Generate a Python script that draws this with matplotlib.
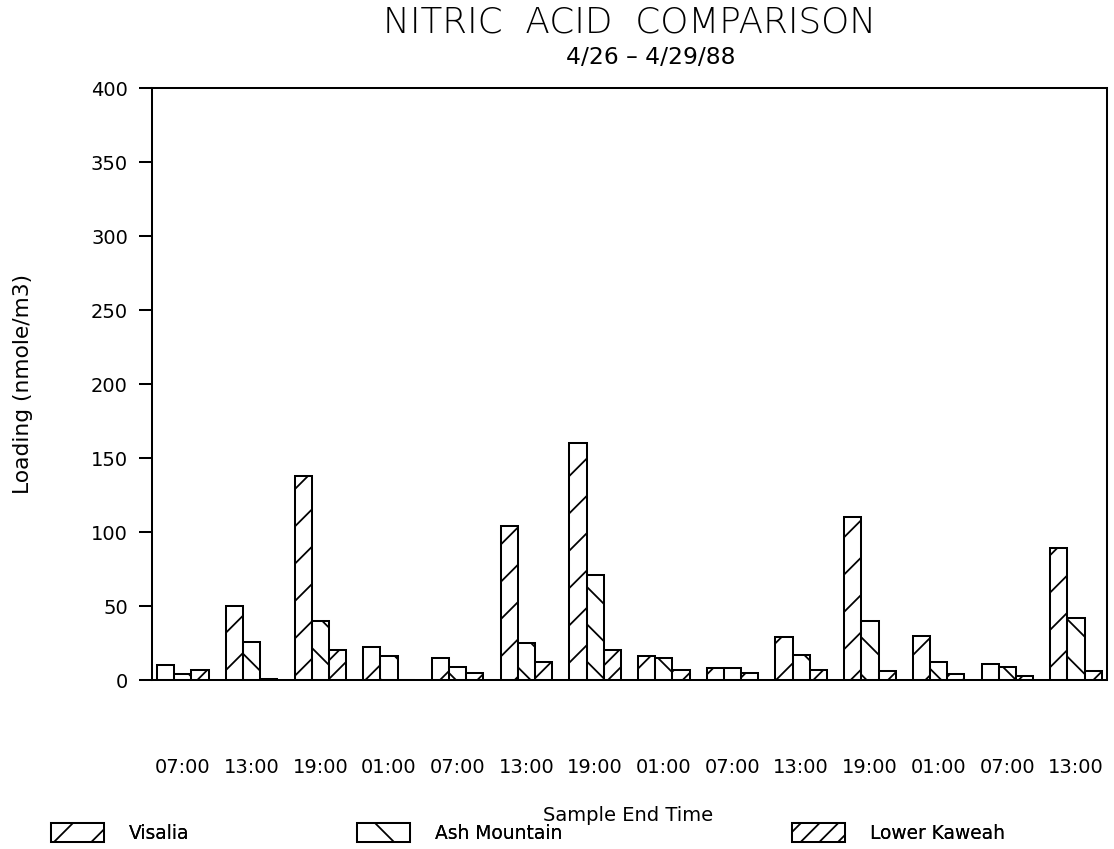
import numpy as np
import matplotlib.pyplot as plt
from matplotlib.patches import Patch

times = ['07:00', '13:00', '19:00', '01:00', '07:00', '13:00', '19:00',
         '01:00', '07:00', '13:00', '19:00', '01:00', '07:00', '13:00']
visalia = [10, 50, 138, 22, 15, 104, 160, 16, 8, 29, 110, 30, 11, 89]
ash_mountain = [4, 26, 40, 16, 9, 25, 71, 15, 8, 17, 40, 12, 9, 42]
lower_kaweah = [7, 1, 20, 0, 5, 12, 20, 7, 5, 7, 6, 4, 3, 6]

plt.rcParams['hatch.linewidth'] = 1.15
plt.rcParams['font.family'] = 'DejaVu Sans'

# dpi 112 so the hatch spacing comes out close to the original
DPI = 112
fig = plt.figure(figsize=(1114/DPI, 849/DPI), dpi=DPI)
ax = fig.add_axes([0.1364, 0.199, 0.8573, 0.6973])

x = np.arange(len(times))
w = 0.25
ax.bar(x - w, visalia, w, fill=False, hatch='/', edgecolor='black', linewidth=1.3)
ax.bar(x, ash_mountain, w, fill=False, hatch='\\', edgecolor='black', linewidth=1.3)
ax.bar(x + w, lower_kaweah, w, fill=False, hatch='//', edgecolor='black', linewidth=1.3)

ax.set_xlim(-0.45, len(times) - 0.55)
ax.set_ylim(0, 400)
ax.set_yticks(range(0, 401, 50))
ax.set_xticks(x)
ax.set_xticklabels(times)
ax.tick_params(axis='both', labelsize=12.5, width=1.3)
ax.tick_params(axis='y', length=8.4, pad=7)
ax.tick_params(axis='x', length=0, pad=50)
for s in ax.spines.values():
    s.set_linewidth(1.3)

ax.set_ylabel('Loading (nmole/m3)', fontsize=14)
ax.yaxis.set_label_coords(-0.1246, 0.5)

fig.text(0.565, 0.974, 'NITRIC  ACID  COMPARISON', ha='center', va='center',
         fontsize=23, fontweight='light')
fig.text(0.584, 0.932, '4/26 \u2013 4/29/88', ha='center', va='center', fontsize=15)
fig.text(0.564, 0.040, 'Sample End Time', ha='center', va='center', fontsize=12.5)

names = ['Visalia', 'Ash Mountain', 'Lower Kaweah']
hatches = ['/', '\\', '//']
legx = [0.0377, 0.3124, 0.703]
for nm, h, lx in zip(names, hatches, legx):
    p = Patch(facecolor='white', edgecolor='black', hatch=h, linewidth=1.3)
    leg = fig.legend([p], [nm], loc='center left', bbox_to_anchor=(lx, 0.019),
                     frameon=False, fontsize=12, handlelength=2.8, handleheight=1.2,
                     handletextpad=1.35, borderpad=0)
    fig.add_artist(leg)

fig.savefig('out.png', dpi=DPI)
